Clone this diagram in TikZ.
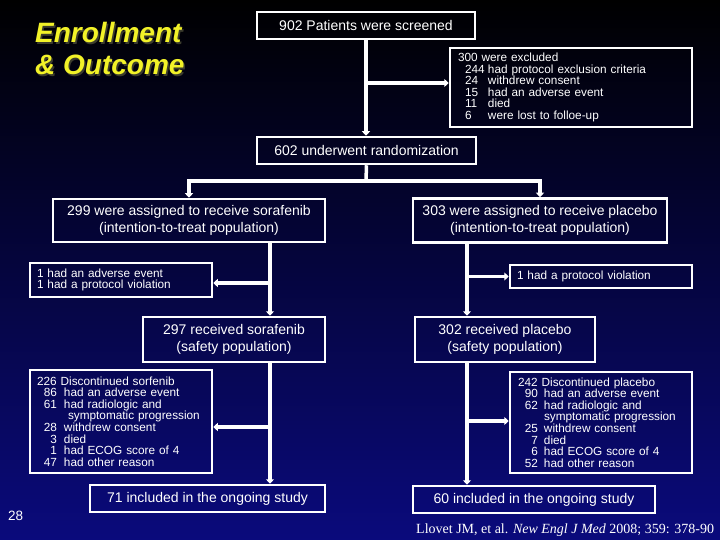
\documentclass[tikz,border=0pt]{standalone}
\usepackage{fontspec}
\setmainfont{Liberation Sans}
\newfontfamily\citefont{Liberation Serif}
\usetikzlibrary{arrows.meta}
\definecolor{bgtop}{RGB}{0,0,0}
\definecolor{bgbot}{RGB}{10,10,124}
\definecolor{titleyellow}{RGB}{242,242,40}
\definecolor{titleshadow}{RGB}{60,60,45}
\newcommand\numR[2]{\makebox[20pt][r]{#1}\hspace{#2}}
\newcommand\numL[1]{\hspace*{7pt}\makebox[23pt][l]{#1}}
\begin{document}
\begin{tikzpicture}[x=1pt,y=-1pt,
  bigbox/.style={draw=white, line width=2.5pt, text=white, inner sep=0pt, align=center, font=\fontsize{14}{17}\selectfont},
  smallbox/.style={draw=white, line width=2.5pt, text=white, inner ysep=0pt, align=left, font=\fontsize{11.8}{11.6}\selectfont},
  link/.style={draw=white, line width=3.5pt},
  arr/.style={link, -{Triangle[length=4.5pt,width=8pt]}},
  titlefont/.style={font=\fontsize{28}{32}\selectfont\bfseries\itshape, inner sep=0pt, anchor=base west},
]
\useasboundingbox (0,0) rectangle (720,540);
\shade[top color=bgtop, bottom color=bgbot] (0,0) rectangle (720,540);

% title
\node[titlefont, text=titleshadow] (t1s) at (36.5,44.5) {Enrollment};
\node[titlefont, text=titleshadow] (t2s) at (36.5,76.5) {\& Outcome};
\node[titlefont, text=titleyellow] (t1) at (35,43) {Enrollment};
\node[titlefont, text=titleyellow] (t2) at (35,75) {\& Outcome};

% boxes
\node[bigbox, minimum width=218pt, minimum height=27pt] (scr) at (366,25.5) {902 Patients were screened};
\node[smallbox, inner xsep=8pt, text width=226pt, minimum height=79pt] (exc) at (571,87.5) {300 were excluded\\
\numL{244}had protocol exclusion criteria\\
\numL{24}withdrew consent\\
\numL{15}had an adverse event\\
\numL{11}died\\
\numL{6}were lost to folloe-up};
\node[bigbox, minimum width=219pt, minimum height=27pt] (rand) at (366.5,150.5) {602 underwent randomization};

\node[bigbox, minimum width=272pt, minimum height=43pt] (sor) at (189,220.5) {299 were assigned to receive sorafenib\\(intention-to-treat population)};
\node[bigbox, minimum width=254pt, minimum height=44pt] (pla) at (540,220.5) {303 were assigned to receive placebo\\(intention-to-treat population)};

\node[smallbox, inner xsep=7pt, text width=168pt, minimum height=34pt] (ae1) at (121,280) {1 had an adverse event\\1 had a protocol violation};
\node[smallbox, inner xsep=7pt, text width=168pt, minimum height=23pt] (pv1) at (601,276.5) {1 had a protocol violation};

\node[bigbox, minimum width=182pt, minimum height=45pt] (rs) at (234,339.5) {297 received sorafenib\\(safety population)};
\node[bigbox, minimum width=180pt, minimum height=45pt] (rp) at (505,339.5) {302 received placebo\\(safety population)};

\node[smallbox, inner xsep=7pt, text width=168pt, minimum height=103pt] (ds) at (121,421.5) {226 Discontinued sorfenib\\
\numR{86}{7pt}had an adverse event\\
\numR{61}{7pt}had radiologic and\\
\hspace*{31pt}symptomatic progression\\
\numR{28}{7pt}withdrew consent\\
\numR{3}{7pt}died\\
\numR{1}{7pt}had ECOG score of 4\\
\numR{47}{7pt}had other reason};
\node[smallbox, inner xsep=8pt, text width=166pt, minimum height=101pt] (dp) at (601,422.5) {242 Discontinued placebo\\
\numR{90}{6pt}had an adverse event\\
\numR{62}{6pt}had radiologic and\\
\hspace*{26pt}symptomatic progression\\
\numR{25}{6pt}withdrew consent\\
\numR{7}{6pt}died\\
\numR{6}{6pt}had ECOG score of 4\\
\numR{52}{6pt}had other reason};

\node[bigbox, minimum width=235pt, minimum height=27pt] (os) at (207.5,498.5) {71 included in the ongoing study};
\node[bigbox, minimum width=242pt, minimum height=27pt] (op) at (534,499.5) {60 included in the ongoing study};

% page number and citation
\node[font=\fontsize{13.5}{16}\selectfont, text=white, inner sep=0pt, anchor=base west] (pg) at (8,520) {28};
\node[font=\fontsize{14}{16}\selectfont\citefont, text=white, inner sep=0pt, anchor=base west] (cite) at (416,533) {Llovet JM, et al. \textit{New Engl J Med} 2008; 359: 378-90};

% connectors
\coordinate (b1) at ([yshift=4.5pt]exc.west);
\draw[arr] (scr.south) -- (scr.south |- rand.north);
\draw[arr] (scr.south |- b1) -- (b1);

\coordinate (hub) at (366,181);
\draw[link] (rand.south) -- (hub);
\draw[arr] (hub) -| (sor.north);
\draw[arr] (hub) -| (pla.north);

\coordinate (lx) at (270,0);
\coordinate (rx) at (467,0);
\coordinate (b2) at ([yshift=-3pt]ae1.east);
\coordinate (b3) at (pv1.west);
\coordinate (b4) at ([yshift=-5.5pt]ds.east);
\coordinate (b5) at ([yshift=1.5pt]dp.west);

\draw[arr] (sor.south -| lx) -- (rs.north -| lx);
\draw[arr] (lx |- b2) -- (b2);
\draw[arr] (rs.south -| lx) -- (os.north -| lx);
\draw[arr] (lx |- b4) -- (b4);

\draw[arr] (pla.south -| rx) -- (rp.north -| rx);
\draw[arr] (rx |- b3) -- (b3);
\draw[arr] (rp.south -| rx) -- (op.north -| rx);
\draw[arr] (rx |- b5) -- (b5);
\end{tikzpicture}
\end{document}
